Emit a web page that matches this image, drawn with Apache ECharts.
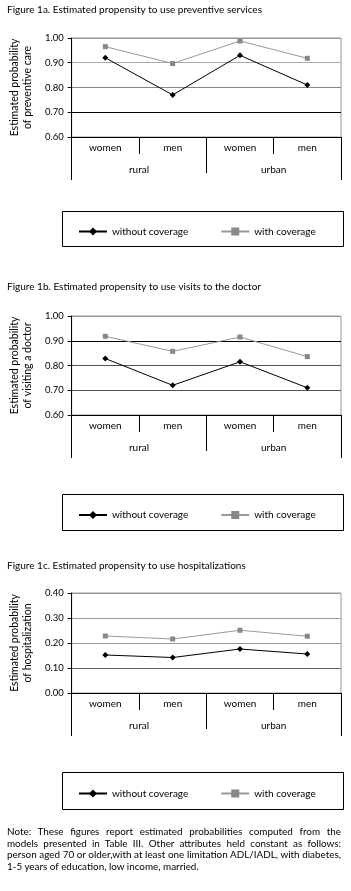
<!DOCTYPE html>
<html>
<head>
<meta charset="utf-8">
<script src="https://cdn.jsdelivr.net/npm/echarts@6/dist/echarts.min.js"></script>
<style>
  html, body { margin: 0; padding: 0; background: #fff; }
  #wrap { position: relative; width: 351px; height: 891px; }
  #chart { width: 351px; height: 891px; }
  #note {
    position: absolute; left: 7px; top: 826px; width: 334px;
    font-family: Lato, sans-serif; font-size: 9.9px; line-height: 11.5px; color: #000;
  }
  #note span { display: block; text-align: justify; text-align-last: justify; white-space: nowrap; }
  #note span.last { text-align-last: left; }
</style>
</head>
<body>
<div id="wrap">
  <div id="chart"></div>
  <div id="note"></div>
</div>
<script>
// data
const genders = ['women', 'men', 'women', 'men'];
const areas = ['rural', 'urban'];
const seriesNames = ['without coverage', 'with coverage'];

const preventiveWithout = [0.92, 0.77, 0.93, 0.81];
const preventiveWith = [0.965, 0.897, 0.988, 0.918];
const doctorWithout = [0.828, 0.72, 0.815, 0.71];
const doctorWith = [0.918, 0.857, 0.915, 0.836];
const hospWithout = [0.152, 0.142, 0.176, 0.156];
const hospWith = [0.228, 0.216, 0.251, 0.227];

const titles = [
  'Figure 1a. Estimated propensity to use preventive services',
  'Figure 1b. Estimated propensity to use visits to the doctor',
  'Figure 1c. Estimated propensity to use hospitalizations'
];
const yNames = [
  'Estimated probability\nof preventive care',
  'Estimated probability\nof visiting a doctor',
  'Estimated probability\nof hospitalization'
];
const yRanges = [[0.6, 1.0], [0.6, 1.0], [0, 0.4]];
const noteLines = [
  'Note: These figures report estimated probabilities computed from the',
  'models presented in Table III. Other attributes held constant as follows:',
  'person aged 70 or older,with at least one limitation ADL/IADL, with diabetes,',
  '1-5 years of education, low income, married.'
];

const FONT = 'Lato';
const panels = [
  { top: 38, height: 99, title: 11, box: [209, 35], split: ['#000', '#000', '#888', '#aaa', '#999'], without: preventiveWithout, withC: preventiveWith },
  { top: 316, height: 99, title: 288, box: [492, 36], split: ['#000', '#555', '#555', '#000', '#999'], without: doctorWithout, withC: doctorWith },
  { top: 593, height: 100, title: 567, box: [770, 37], split: ['#000', '#666', '#999', '#999', '#999'], without: hospWithout, withC: hospWith }
];

const grid = [], xAxis = [], yAxis = [], series = [], legend = [], graphic = [];

panels.forEach((p, i) => {
  grid.push({ left: 60, top: p.top, width: 281, height: p.height, show: true, borderColor: '#999', borderWidth: 1 });

  // first tier: women / men
  xAxis.push({
    type: 'category', gridIndex: i, data: genders, position: 'bottom',
    axisLine: { lineStyle: { color: '#000', width: 1 } },
    axisTick: { show: true, length: 17, interval: 0, lineStyle: { color: '#000' } },
    axisLabel: { margin: 6, color: '#000', fontFamily: FONT, fontSize: 10, interval: 0 }
  });
  // second tier: rural / urban
  xAxis.push({
    type: 'category', gridIndex: i, data: areas, position: 'bottom',
    axisLine: { show: false },
    axisTick: { show: true, length: 36, interval: 0, lineStyle: { color: '#000' } },
    axisLabel: { margin: 28, color: '#000', fontFamily: FONT, fontSize: 10, interval: 0 }
  });
  // outer brackets
  xAxis.push({
    type: 'category', gridIndex: i, data: [''], position: 'bottom',
    axisLine: { show: false },
    axisTick: { show: true, length: 43, lineStyle: { color: '#000' } },
    axisLabel: { show: false }
  });

  yAxis.push({
    type: 'value', gridIndex: i, min: yRanges[i][0], max: yRanges[i][1], interval: 0.1,
    name: yNames[i], nameLocation: 'middle', nameRotate: 90, nameGap: 29,
    nameTextStyle: { fontFamily: FONT, fontSize: 10.5, color: '#000', lineHeight: 13 },
    axisLine: { show: true, lineStyle: { color: '#000' } },
    axisTick: { show: true, length: 4, lineStyle: { color: '#000' } },
    axisLabel: { margin: 8, color: '#000', fontFamily: FONT, fontSize: 9.5, formatter: v => v.toFixed(2) },
    splitLine: { show: true, lineStyle: { color: p.split, width: 1 } }
  });

  series.push({
    name: seriesNames[0], type: 'line', xAxisIndex: i * 3, yAxisIndex: i, data: p.without,
    symbol: 'diamond', symbolSize: 6, showSymbol: true,
    itemStyle: { color: '#000' }, lineStyle: { color: '#000', width: 1 },
    animation: false
  });
  series.push({
    name: seriesNames[1], type: 'line', xAxisIndex: i * 3, yAxisIndex: i, data: p.withC,
    symbol: 'rect', symbolSize: 5, showSymbol: true,
    itemStyle: { color: '#888' }, lineStyle: { color: '#999', width: 1 },
    animation: false
  });

  legend.push({
    data: seriesNames, left: 73, top: p.box[0] + p.box[1] / 2 - 5,
    itemWidth: 28, itemHeight: 10, itemGap: 32, selectedMode: false,
    textStyle: { fontFamily: FONT, fontSize: 10, color: '#000' }
  });

  graphic.push({
    type: 'rect', left: 60, top: p.box[0], silent: true,
    shape: { width: 281, height: p.box[1] },
    style: { fill: 'none', stroke: '#000', lineWidth: 1 }
  });
  graphic.push({
    type: 'text', left: 7, top: p.title - 6,
    style: { text: titles[i], fontFamily: FONT, fontSize: 10, fill: '#000' }
  });
});

const chart = echarts.init(document.getElementById('chart'), null, { renderer: 'canvas' });
chart.setOption({
  backgroundColor: '#fff',
  animation: false,
  grid, xAxis, yAxis, series, legend, graphic
});

// note under the figures, justified like the source
const note = document.getElementById('note');
noteLines.forEach((line, k) => {
  const s = document.createElement('span');
  s.textContent = line;
  if (k === noteLines.length - 1) s.className = 'last';
  note.appendChild(s);
});
</script>
</body>
</html>
